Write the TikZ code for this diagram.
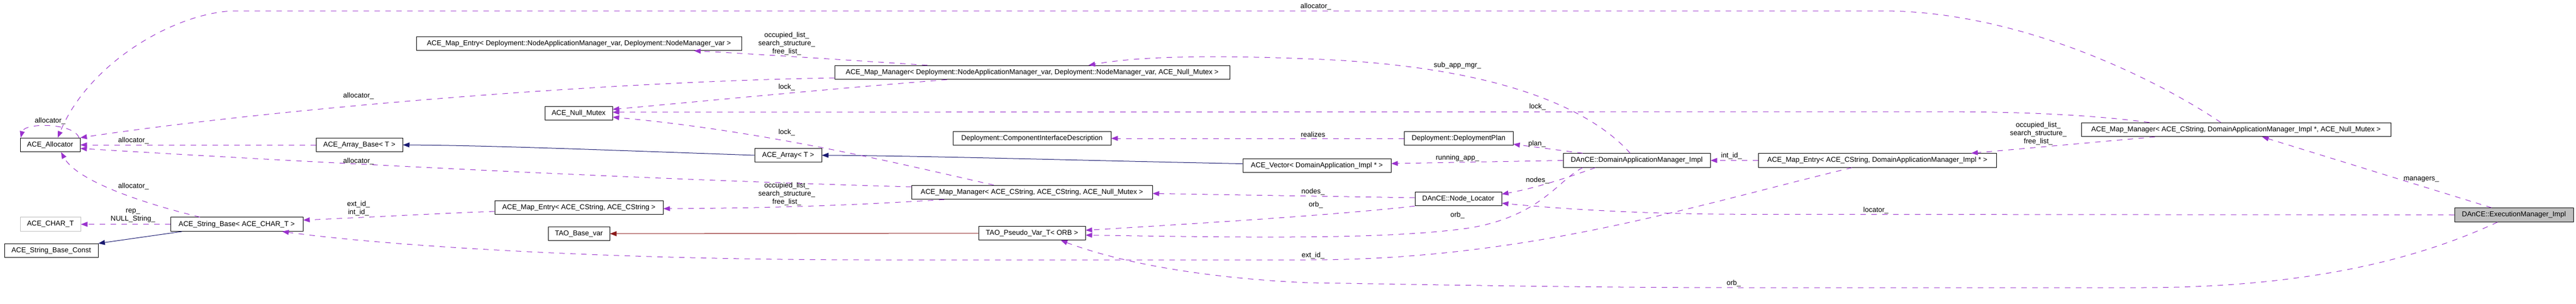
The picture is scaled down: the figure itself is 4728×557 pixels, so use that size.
\documentclass[tikz,border=0pt]{standalone}
\usepackage{fontspec}
\setmainfont{Liberation Sans}
\usetikzlibrary{arrows.meta}
\definecolor{depc}{HTML}{9A32CD}
\definecolor{inhc}{HTML}{191970}
\definecolor{privc}{HTML}{8B1A1A}
\definecolor{greyc}{HTML}{BFBFBF}
\newcommand\dxfont{\fontsize{13}{15}\selectfont}
\begin{document}
\begin{tikzpicture}[x=1pt,y=-1pt,
  cls/.style={draw=black, line width=1pt, minimum height=25.5pt, inner sep=0pt, font=\dxfont, anchor=center},
  usedge/.style={draw=depc, line width=1pt, dash pattern=on 10pt off 10pt, -{Triangle[length=12pt,width=9pt]}},
  inhedge/.style={draw=inhc, line width=1pt, -{Triangle[length=12pt,width=9pt]}},
  privedge/.style={draw=privc, line width=1pt, -{Triangle[length=12pt,width=9pt]}},
  lbl/.style={font=\dxfont, inner sep=0pt, align=center}]
\useasboundingbox (0,0) rectangle (4728,557);
\fill[white] (0,0) rectangle (4728,557);

% classes
\node[cls, minimum width=110pt] (alloc) at (92,266) {ACE\_Allocator};
\node[cls, draw=greyc, minimum width=111pt] (chart) at (92.5,411.7) {ACE\_CHAR\_T};
\node[cls, minimum width=172pt] (sbc) at (94,460) {ACE\_String\_Base\_Const};
\node[cls, minimum width=243pt] (sb) at (434.5,411.7) {ACE\_String\_Base< ACE\_CHAR\_T >};
\node[cls, minimum width=159pt] (arrb) at (659.5,266) {ACE\_Array\_Base< T >};
\node[cls, minimum width=597pt] (meDep) at (1062.5,80) {ACE\_Map\_Entry< Deployment::NodeApplicationManager\_var, Deployment::NodeManager\_var >};
\node[cls, minimum width=725pt] (mmDep) at (1894.5,133) {ACE\_Map\_Manager< Deployment::NodeApplicationManager\_var, Deployment::NodeManager\_var, ACE\_Null\_Mutex >};
\node[cls, minimum width=124pt] (nm) at (1062,208) {ACE\_Null\_Mutex};
\node[cls, minimum width=123pt] (arr) at (1446.5,285) {ACE\_Array< T >};
\node[cls, minimum width=309pt] (meCC) at (1062.5,381) {ACE\_Map\_Entry< ACE\_CString, ACE\_CString >};
\node[cls, minimum width=113pt] (tbv) at (1062.5,429) {TAO\_Base\_var};
\node[cls, minimum width=290pt] (cid) at (1894,254) {Deployment::ComponentInterfaceDescription};
\node[cls, minimum width=272pt] (vec) at (2417,304) {ACE\_Vector< DomainApplication\_Impl * >};
\node[cls, minimum width=442pt] (mmCC) at (1894,353) {ACE\_Map\_Manager< ACE\_CString, ACE\_CString, ACE\_Null\_Mutex >};
\node[cls, minimum width=196pt] (pv) at (1894,428) {TAO\_Pseudo\_Var\_T< ORB >};
\node[cls, minimum width=200pt] (dp) at (2677,254) {Deployment::DeploymentPlan};
\node[cls, minimum width=270pt] (dam) at (3004,294.5) {DAnCE::DomainApplicationManager\_Impl};
\node[cls, minimum width=159pt] (nl) at (2676.5,365) {DAnCE::Node\_Locator};
\node[cls, minimum width=437pt] (meDam) at (3445.5,294.5) {ACE\_Map\_Entry< ACE\_CString, DomainApplicationManager\_Impl * >};
\node[cls, minimum width=568pt] (mmDam) at (4104,238) {ACE\_Map\_Manager< ACE\_CString, DomainApplicationManager\_Impl *, ACE\_Null\_Mutex >};
\node[cls, fill=greyc, minimum width=218pt] (em) at (4614,394.5) {DAnCE::ExecutionManager\_Impl};

% connectors
\draw[usedge] ([xshift=-28pt]mmDam.north) .. controls (3950,140) and (3700,20) .. (3455,20) -- (434,20) .. controls (330,20) and (165,110) .. ([xshift=14pt]alloc.north);
\node[lbl] (l1) at (2415,12) {allocator\_};

\draw[usedge] ([xshift=53pt]alloc.north) .. controls (135,225) and (45,225) .. ([xshift=-54pt]alloc.north);
\node[lbl] (l0) at (92,222) {allocator\_};

\draw[usedge] ([yshift=-10pt]mmDep.west) .. controls (1100,150) and (500,200) .. (alloc.north east);
\node[lbl] (l2) at (658,176) {allocator\_};

\draw[usedge] (arrb.west) -- (alloc.east);
\node[lbl] (l3) at (245,258) {allocator\_};

\draw[usedge] ([yshift=10pt]mmCC.west) .. controls (1200,330) and (600,300) .. ([yshift=-6.5pt]alloc.east);
\node[lbl] (l4) at (658,296) {allocator\_};

\draw[usedge] ([xshift=-67.5pt]sb.north) .. controls (250,370) and (140,330) .. ([xshift=20pt]alloc.south);
\node[lbl] (l5) at (245,342) {allocator\_};

\draw[usedge] (sb.west) -- (chart.east);
\node[lbl] (l6) at (244,396) {rep\_\\NULL\_String\_};

\draw[inhedge] ([xshift=-100.5pt]sb.south) -- (sbc.north east);

\draw[usedge] ([yshift=-7pt]meCC.west) .. controls (800,392) and (650,400) .. ([yshift=7.7pt]sb.east);
\node[lbl] (l8) at (658,383) {ext\_id\_\\int\_id\_};

\draw[usedge] ([xshift=-46.5pt]meDam.south) .. controls (3100,380) and (2800,477) .. (2400,477) -- (1600,477) .. controls (1100,477) and (700,450) .. ([xshift=83.5pt]sb.south);
\node[lbl] (l9) at (2410,469) {ext\_id\_};

\draw[inhedge] (arr.west) .. controls (1100,275) and (900,267) .. (arrb.east);
\draw[inhedge] ([yshift=3.5pt]vec.west) .. controls (2000,295) and (1700,286) .. (arr.east);

\draw[usedge] ([xshift=-156.5pt]mmDep.south) .. controls (1500,165) and (1300,185) .. ([yshift=7.3pt]nm.east);
\node[lbl] (l12) at (1444,160) {lock\_};

\draw[usedge] ([xshift=-159pt]mmDam.north) .. controls (3800,206) and (3650,205) .. (3527,205) -- ([yshift=2pt]nm.east);
\node[lbl] (l13) at (2822,196) {lock\_};

\draw[usedge] ([xshift=-70pt]mmCC.north) .. controls (1650,300) and (1400,240) .. ([yshift=-7pt]nm.east);
\node[lbl] (l14) at (1444,242.6) {lock\_};

\draw[usedge] ([xshift=-192.5pt]mmDep.north) .. controls (1550,110) and (1400,100) .. ([xshift=211.5pt]meDep.south);
\node[lbl] (l15) at (1444,79.6) {occupied\_list\_\\search\_structure\_\\free\_list\_};

\draw[usedge] ([xshift=-161pt]mmCC.south) .. controls (1550,378) and (1400,382) .. ([yshift=-2pt]meCC.east);
\node[lbl] (l16) at (1444,356.3) {occupied\_list\_\\search\_structure\_\\free\_list\_};

\draw[privedge] (pv.west) -- (tbv.east);

\draw[usedge] ([xshift=-12pt]dam.north) .. controls (2920,200) and (2750,120) .. (2400,108) .. controls (2200,100) and (2080,105) .. ([xshift=103.5pt]mmDep.north);
\node[lbl] (l18) at (2675,120) {sub\_app\_mgr\_};

\draw[usedge] (dp.west) -- (cid.east);
\node[lbl] (l19) at (2410,247) {realizes};

\draw[usedge] ([xshift=-99pt]dam.north) -- ([yshift=-10.7pt]dp.east);
\node[lbl] (l20) at (2821,264) {plan\_};

\draw[usedge] (dam.west) -- ([yshift=3.8pt]vec.east);
\node[lbl] (l21) at (2675,290) {running\_app\_};

\draw[usedge] ([xshift=-76pt]dam.south) .. controls (2880,325) and (2820,345) .. ([yshift=8.7pt]nl.east);
\node[lbl] (l22) at (2822,330.7) {nodes\_};

\draw[usedge] ([xshift=-99pt]dam.south) .. controls (2860,330) and (2830,395) .. (2700,418) .. controls (2550,440) and (2300,436) .. ([yshift=-3.6pt]pv.east);
\node[lbl] (l23) at (2675,395.4) {orb\_};

\draw[usedge] ([yshift=2pt]nl.west) -- ([yshift=-2.2pt]mmCC.east);
\node[lbl] (l24) at (2410,351.7) {nodes\_};

\draw[usedge] (nl.south west) .. controls (2450,395) and (2200,410) .. ([yshift=5.3pt]pv.east);
\node[lbl] (l25) at (2415,375.8) {orb\_};

\draw[usedge] (meDam.west) -- (dam.east);
\node[lbl] (l26) at (3178,286) {int\_id\_};

\draw[usedge] ([xshift=-149pt]mmDam.south) -- ([xshift=172.5pt]meDam.north);
\node[lbl] (l27) at (3741,244.8) {occupied\_list\_\\search\_structure\_\\free\_list\_};

\draw[usedge] (em.west) -- (3200,393.3) .. controls (3000,393) and (2850,382) .. ([yshift=-8pt]nl.east);
\node[lbl] (l28) at (3443,386.5) {locator\_};

\draw[usedge] ([xshift=-41pt]em.north) -- ([xshift=48pt]mmDam.south);
\node[lbl] (l29) at (4444,329) {managers\_};

\draw[usedge] ([xshift=-30pt]em.south) .. controls (4450,470) and (4250,528) .. (3928,528) -- (3200,528) .. controls (2900,528) and (2600,522) .. (2400,519) .. controls (2200,510) and (2050,480) .. ([xshift=53pt]pv.south);
\node[lbl] (l30) at (3182,519.7) {orb\_};
\end{tikzpicture}
\end{document}
